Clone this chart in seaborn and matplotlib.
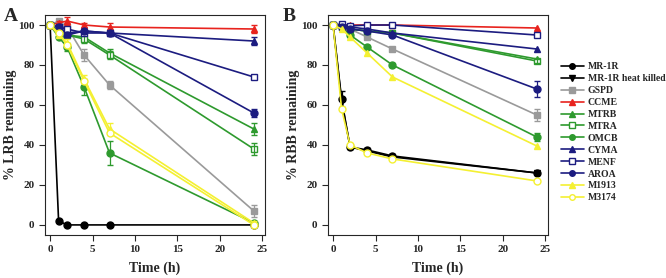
import numpy as np
import pandas as pd
import matplotlib
matplotlib.use("Agg")
import matplotlib.pyplot as plt
import seaborn as sns

# time points (h)
times = [0, 1, 2, 4, 7, 24]

strains = ["MR-1R", "MR-1R heat killed", "GSPD", "CCME", "MTRB", "MTRA",
           "OMCB", "CYMA", "MENF", "AROA", "M1913", "M3174"]

# % LRB remaining (panel A)
lrb = {
    "MR-1R":             [100, 2, 0, 0, 0, 0],
    "MR-1R heat killed": [np.nan] * 6,
    "GSPD":              [100, 102, 99, 85, 70, 7],
    "CCME":              [100, 101, 102, 100, 99, 98],
    "MTRB":              [100, 97, 95, 94, 86, 48],
    "MTRA":              [100, 97, 95, 93, 85, 38],
    "OMCB":              [100, 94, 89, 69, 36, 1],
    "CYMA":              [100, 99, 96, 97, 96, 92],
    "MENF":              [100, 99, 98, 96, 96, 74],
    "AROA":              [100, 99, 95, 97, 96, 56],
    "M1913":             [100, 95, 91, 73, 48, 1],
    "M3174":             [100, 96, 90, 72, 46, 0],
}
lrb_err = {
    "GSPD": [0, 1, 2, 3, 2, 3],
    "CCME": [0, 1, 2, 1, 2, 2],
    "MTRB": [0, 1, 1, 2, 2, 3],
    "MTRA": [0, 1, 1, 2, 2, 3],
    "OMCB": [0, 1, 2, 4, 6, 1],
    "CYMA": [0, 1, 1, 1, 1, 2],
    "AROA": [0, 1, 1, 1, 1, 2],
    "M1913": [0, 1, 2, 2, 3, 1],
}

# % RBB remaining (panel B)
rbb = {
    "MR-1R":             [100, 63, 39, 37.5, 34.5, 26],
    "MR-1R heat killed": [100, 62, 39, 37, 34, 26],
    "GSPD":              [100, 99, 98, 94, 88, 55],
    "CCME":              [100, 100, 100, 100, 100, 98.5],
    "MTRB":              [100, 99, 98, 97, 96, 83],
    "MTRA":              [100, 99, 98, 97, 96, 82],
    "OMCB":              [100, 99, 95, 89, 80, 44],
    "CYMA":              [100, 99, 99, 98, 96, 88],
    "MENF":              [100, 100.5, 99.5, 100, 100, 95],
    "AROA":              [100, 99, 98, 97, 95, 68],
    "M1913":             [100, 98, 94, 86, 74, 39.5],
    "M3174":             [100, 58, 40, 36, 33, 22],
}
rbb_err = {
    "MR-1R": [0, 4, 1, 1, 1, 1],
    "GSPD": [0, 1, 1, 1, 1, 3],
    "OMCB": [0, 1, 1, 1, 1, 2],
    "AROA": [0, 1, 1, 1, 1, 4],
    "MTRA": [0, 1, 1, 1, 1, 1],
}

green = "#2e9a2e"
navy = "#1c1c80"
yellow = "#f4f032"
styles = {
    "MR-1R":             dict(color="black", marker="o", mfc="black"),
    "MR-1R heat killed": dict(color="black", marker="v", mfc="black"),
    "GSPD":              dict(color="#9a9a9a", marker="s", mfc="#9a9a9a"),
    "CCME":              dict(color="#e8231e", marker="^", mfc="#e8231e"),
    "MTRB":              dict(color=green, marker="^", mfc=green),
    "MTRA":              dict(color=green, marker="s", mfc="white"),
    "OMCB":              dict(color=green, marker="o", mfc=green),
    "CYMA":              dict(color=navy, marker="^", mfc=navy),
    "MENF":              dict(color=navy, marker="s", mfc="white"),
    "AROA":              dict(color=navy, marker="o", mfc=navy),
    "M1913":             dict(color=yellow, marker="^", mfc=yellow),
    "M3174":             dict(color=yellow, marker="o", mfc="white"),
}

sns.set_style("ticks")
plt.rcParams["font.family"] = ["Liberation Serif", "DejaVu Serif"]
plt.rcParams["font.weight"] = "bold"

fig = plt.figure(figsize=(6.66, 2.78), dpi=100)
axA = fig.add_axes([0.0676, 0.155, 0.330, 0.791])
axB = fig.add_axes([0.4925, 0.155, 0.330, 0.791])


def draw(ax, data, errs, ylabel):
    for s in strains:
        vals = data[s]
        if np.all(np.isnan(vals)):
            continue
        st = styles[s]
        df = pd.DataFrame({"t": times, "v": vals})
        sns.lineplot(data=df, x="t", y="v", ax=ax, color=st["color"],
                     marker=st["marker"], markersize=5,
                     markerfacecolor=st["mfc"], markeredgecolor=st["color"],
                     markeredgewidth=1.0, linewidth=1.2, label=s)
        if s in errs:
            ax.errorbar(times, vals, yerr=errs[s], fmt="none",
                        ecolor=st["color"], elinewidth=0.9, capsize=2.5)
    ax.set_xlim(-0.6, 25.3)
    ax.set_ylim(-5, 105)
    ax.set_xticks([0, 5, 10, 15, 20, 25])
    ax.set_yticks([0, 20, 40, 60, 80, 100])
    ax.tick_params(labelsize=8, length=4, width=0.8)
    for lab in ax.get_xticklabels() + ax.get_yticklabels():
        lab.set_fontweight("bold")
    ax.set_xlabel("Time (h)", fontsize=10, fontweight="bold", labelpad=5)
    ax.set_ylabel(ylabel, fontsize=10, fontweight="bold", labelpad=1)
    for sp in ax.spines.values():
        sp.set_visible(True)
        sp.set_linewidth(0.8)
    leg = ax.get_legend()
    if leg is not None:
        leg.remove()


draw(axA, lrb, lrb_err, "% LRB remaining")
draw(axB, rbb, rbb_err, "% RBB remaining")

fig.text(0.005, 0.97, "A", fontsize=14, fontweight="bold", va="top")
fig.text(0.425, 0.97, "B", fontsize=14, fontweight="bold", va="top")

handles, labels = axB.get_legend_handles_labels()
fig.legend(handles, labels, loc="upper left", bbox_to_anchor=(0.842, 0.776),
           frameon=False, handlelength=2.4, labelspacing=0.3,
           handletextpad=0.4, borderaxespad=0, borderpad=0, markerscale=0.8,
           prop={"weight": "bold", "size": 7})

fig.savefig("out.png", dpi=100)
